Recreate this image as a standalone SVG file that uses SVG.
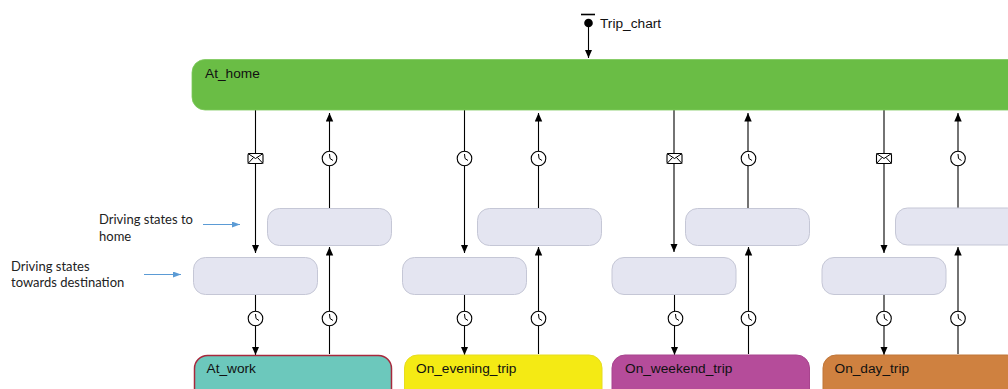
<svg xmlns="http://www.w3.org/2000/svg" width="1008" height="389" viewBox="0 0 1008 389">
<style>
.lbl{font-family:"Liberation Sans",Arial,sans-serif;font-size:13.7px;fill:#111}
.note{font-family:Lato,"Open Sans",sans-serif;font-size:13px;fill:#222}
.c{fill:none;stroke:#000;stroke-width:1.1}
.n{stroke:#5b9bd5;stroke-width:1.2;fill:none}
.drv{fill:#e4e5f1;stroke:#c5c7d6;stroke-width:1}
.ic{fill:#fff;stroke:#000;stroke-width:1.1}
.ih{fill:none;stroke:#000;stroke-width:1}
</style>
<defs>
<marker id="arr" markerUnits="userSpaceOnUse" markerWidth="9" markerHeight="9" refX="8.500" refY="4" orient="auto"><path d="M0 0.300L8.500 4L0 7.700Z" fill="#000"/></marker>
<marker id="blue" markerUnits="userSpaceOnUse" markerWidth="8" markerHeight="7" refX="8" refY="3" orient="auto"><path d="M0 0L8 3L0 6Z" fill="#5b9bd5"/></marker>
<g id="clock"><circle r="7.300" class="ic"/><path d="M0 -4.500L0.500 0L3.500 2" class="ih"/></g>
<g id="mail"><rect x="-7.500" y="-5" width="15" height="10" rx="1.500" class="ic"/><path d="M-7.500 -5L0 0L7.500 -5M-7.500 5L-2 -1M7.500 5L2 -1" class="ih"/></g>
</defs>
<g id="connectors">
<path class="c" d="M588.500 23V58" marker-end="url(#arr)"/>
<path class="c" d="M255.500 110V253" marker-end="url(#arr)"/>
<path class="c" d="M329.500 208V113" marker-end="url(#arr)"/>
<path class="c" d="M255.500 295V355" marker-end="url(#arr)"/>
<path class="c" d="M329.500 354V247" marker-end="url(#arr)"/>
<path class="c" d="M464.500 110V253" marker-end="url(#arr)"/>
<path class="c" d="M538.500 208V113" marker-end="url(#arr)"/>
<path class="c" d="M464.500 295V355" marker-end="url(#arr)"/>
<path class="c" d="M538.500 354V247" marker-end="url(#arr)"/>
<path class="c" d="M674 110V252" marker-end="url(#arr)"/>
<path class="c" d="M748 208V113" marker-end="url(#arr)"/>
<path class="c" d="M674.500 295V355" marker-end="url(#arr)"/>
<path class="c" d="M748.500 354V247" marker-end="url(#arr)"/>
<path class="c" d="M884 110V253" marker-end="url(#arr)"/>
<path class="c" d="M958 208V113" marker-end="url(#arr)"/>
<path class="c" d="M884 295V355" marker-end="url(#arr)"/>
<path class="c" d="M958 354V247" marker-end="url(#arr)"/>
<use href="#mail" x="255.500" y="158.500"/>
<use href="#clock" x="329.500" y="158.500"/>
<use href="#clock" x="464.500" y="158.500"/>
<use href="#clock" x="538.500" y="158.500"/>
<use href="#mail" x="674.500" y="158.500"/>
<use href="#clock" x="748.500" y="158.500"/>
<use href="#mail" x="884" y="158.500"/>
<use href="#clock" x="958" y="158.500"/>
<use href="#clock" x="255.500" y="318.500"/>
<use href="#clock" x="329.500" y="318.500"/>
<use href="#clock" x="464.500" y="318.500"/>
<use href="#clock" x="538.500" y="318.500"/>
<use href="#clock" x="675.500" y="318.500"/>
<use href="#clock" x="748.500" y="318.500"/>
<use href="#clock" x="884" y="318.500"/>
<use href="#clock" x="958" y="318.500"/>
</g>
<g id="start"><path d="M581 14.500H595" stroke="#000" stroke-width="1.600" fill="none"/><circle cx="588.500" cy="23" r="4.300" fill="#000"/><text class="lbl" x="600" y="27.500">Trip_chart</text></g>
<g id="at_home"><rect x="192" y="59.500" width="900" height="50.500" rx="13" fill="#6abd45" stroke="#7cc95a" stroke-width="0.800"/><text class="lbl" x="205" y="77.500">At_home</text></g>
<g id="drive_home_1"><rect class="drv" x="267.500" y="208.500" width="124" height="37" rx="12"/></g>
<g id="drive_dest_1"><rect class="drv" x="193.500" y="257.500" width="124" height="37" rx="12"/></g>
<g id="drive_home_2"><rect class="drv" x="477.500" y="208.500" width="124" height="37" rx="12"/></g>
<g id="drive_dest_2"><rect class="drv" x="402.500" y="257.500" width="124" height="37" rx="12"/></g>
<g id="drive_home_3"><rect class="drv" x="685.500" y="208.500" width="124" height="37" rx="12"/></g>
<g id="drive_dest_3"><rect class="drv" x="612" y="257.500" width="124" height="37" rx="12"/></g>
<g id="drive_home_4"><rect class="drv" x="895.500" y="208" width="124" height="37" rx="12"/></g>
<g id="drive_dest_4"><rect class="drv" x="822" y="257.500" width="124" height="37" rx="12"/></g>
<g id="at_work"><rect x="194.500" y="355.500" width="197" height="50" rx="13" fill="#6cc8bc" stroke="#a8283c" stroke-width="1.500"/><text class="lbl" x="206.500" y="372.500">At_work</text></g>
<g id="on_evening_trip"><rect x="404.500" y="355" width="197.500" height="50" rx="13" fill="#f4ea14" stroke="#e6dc20" stroke-width="1"/><text class="lbl" x="416" y="372.500">On_evening_trip</text></g>
<g id="on_weekend_trip"><rect x="612" y="355" width="197.500" height="50" rx="13" fill="#b54c9a" stroke="#a8448e" stroke-width="1"/><text class="lbl" x="625" y="372.500">On_weekend_trip</text></g>
<g id="on_day_trip"><rect x="823" y="355" width="197.500" height="50" rx="13" fill="#cf8140" stroke="#c07639" stroke-width="1"/><text class="lbl" x="834.500" y="372.500">On_day_trip</text></g>
<g id="notes">
<text class="note" x="99" y="224">Driving states to</text>
<text class="note" x="99" y="241">home</text>
<text class="note" x="11" y="271">Driving states</text>
<text class="note" x="11" y="287">towards destination</text>
<path class="n" d="M203 224.500H240" marker-end="url(#blue)"/>
<path class="n" d="M144 274.500H181" marker-end="url(#blue)"/>
</g>
</svg>
